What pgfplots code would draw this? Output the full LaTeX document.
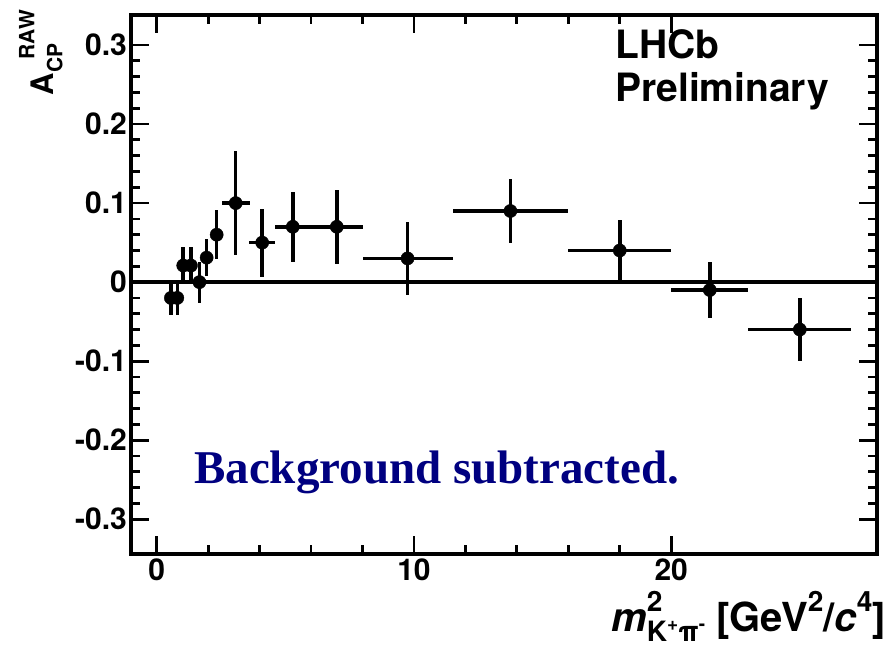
\documentclass[border=0pt]{standalone}
\usepackage{pgfplots}
\pgfplotsset{compat=1.18}
\usepackage{pgfplotstable}
\usepackage{fontspec}
\setmainfont{TeX Gyre Heros}
\newfontfamily\timesfont{Liberation Serif}
\definecolor{navyblue}{RGB}{0,0,128}

% Raw CP asymmetry vs m^2(K+pi-), background subtracted
% columns: bin centre, asymmetry, half bin width, stat. error
\pgfplotstableread{
x      y       ex     ey
0.55  -0.020   0.12   0.021
0.80  -0.020   0.12   0.021
1.03   0.021   0.13   0.024
1.33   0.021   0.15   0.024
1.66   0.000   0.15   0.026
1.94   0.031   0.18   0.023
2.33   0.060   0.22   0.031
3.07   0.100   0.55   0.066
4.10   0.050   0.50   0.043
5.29   0.070   0.70   0.044
7.00   0.070   1.00   0.047
9.75   0.030   1.75   0.046
13.75  0.090   2.25   0.041
18.00  0.040   2.00   0.039
21.50 -0.010   1.50   0.036
25.00 -0.060   2.00   0.040
}\acpdata

\begin{document}
\begin{tikzpicture}[x=1pt,y=1pt]
\useasboundingbox (0,0) rectangle (891,648);
\begin{axis}[
  at={(131pt,94pt)}, anchor=south west,
  scale only axis, width=746pt, height=539pt,
  xmin=-1, xmax=28, ymin=-0.344, ymax=0.338,
  xtick={0,10,20}, ytick={-0.3,-0.2,-0.1,0,0.1,0.2,0.3},
  minor x tick num=4, minor y tick num=4,
  xtick pos=both, ytick pos=both,
  xticklabel pos=lower, yticklabel pos=left,
  tick align=inside,
  major tick length=18pt, minor tick length=9pt,
  every tick/.style={black, line width=2.8pt},
  axis line style={line width=3.5pt},
  tick label style={font=\fontsize{30}{34}\selectfont\bfseries},
  yticklabel style={inner sep=4pt},
  xticklabel style={inner sep=5pt},
  /pgf/number format/assume math mode=true,
  /pgf/number format/fixed,
  /pgf/number format/precision=2,
  clip=false,
]
\draw[line width=3.5pt] (axis cs:-1,0) -- (axis cs:28,0);
\addplot[black, only marks, mark=*, mark size=6.6pt,
  error bars/.cd, x dir=both, x explicit, y dir=both, y explicit,
  error mark=none, error bar style={line width=3.5pt}]
  table[x=x, y=y, x error=ex, y error=ey] {\acpdata};
\end{axis}

% experiment label
\node[anchor=base west, inner sep=0, font=\fontsize{39}{39}\selectfont\bfseries] at (615,589) {LHCb};
\node[anchor=base west, inner sep=0, font=\fontsize{39}{39}\selectfont\bfseries] at (615,546) {Preliminary};

% annotation
\node[anchor=base west, inner sep=0, text=navyblue, font=\timesfont\fontsize{47}{47}\selectfont\bfseries] at (194,164) {Background subtracted.};

% axis titles
\node[anchor=base east, inner sep=0, font=\fontsize{40}{40}\selectfont\bfseries] at (886,17)
  {\textit{m}\rlap{\raisebox{0.5em}{\fontsize{28}{28}\selectfont 2}}\raisebox{-0.27em}{\fontsize{28}{28}\selectfont K\raisebox{0.4em}{\fontsize{19}{19}\selectfont +}π\raisebox{0.4em}{\fontsize{19}{19}\selectfont -}}\ [GeV\raisebox{0.5em}{\fontsize{28}{28}\selectfont 2}/\textit{c}\raisebox{0.5em}{\fontsize{28}{28}\selectfont 4}]};
\node[anchor=base east, inner sep=0, rotate=90, font=\fontsize{31}{31}\selectfont\bfseries] at (53,638)
  {A\raisebox{-0.3em}{\fontsize{21}{21}\selectfont CP}\kern-0.5em\raisebox{0.6em}{\fontsize{21}{21}\selectfont RAW}};
\end{tikzpicture}
\end{document}
